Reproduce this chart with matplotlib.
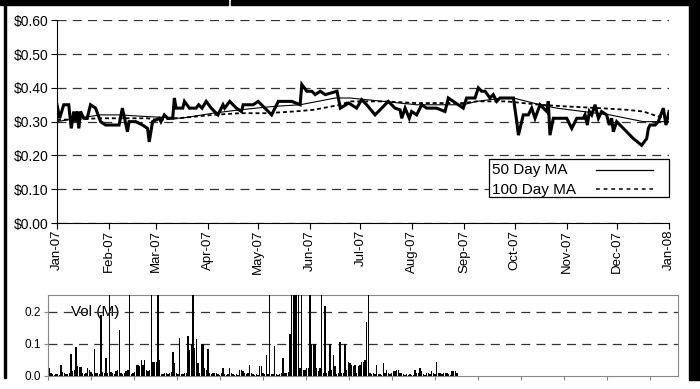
import matplotlib
matplotlib.use("Agg")
import matplotlib.pyplot as plt
import matplotlib.dates as mdates
from matplotlib.patches import Rectangle
import numpy as np
import pandas as pd

plt.rcParams['font.family'] = ['Liberation Sans', 'DejaVu Sans']

START = pd.Timestamp('2007-01-01')

# daily close (day offset from Jan 1 2007, price in $)
price_day = [0, 1.6, 4, 7, 8.5, 10, 11, 12, 13, 14, 16, 18, 20, 23, 26, 29, 37, 39, 42, 43,
             47, 51, 54, 55, 57, 61, 62, 64, 66, 69, 70, 71, 75, 76, 79, 83, 84.5, 86.5, 89, 92,
             96, 99, 100, 103, 107, 110, 111, 117, 120, 124, 128, 130, 132, 140, 145, 146, 149,
             152, 154, 157, 160, 167, 169, 174, 178.7, 181.7, 184.7, 189.7, 195.6, 197.6, 201.6,
             204.6, 205.6, 207.6, 210.1, 211.5, 214.5, 217.5, 220.5, 226.4, 231.4, 233.4, 236.4,
             239.4, 242.3, 244.3, 249.3, 251.3, 253.3, 255.3, 258.2, 260.2, 262.2, 264.2, 272.2,
             274.2, 275.2, 278.1, 281.1, 283.1, 285.1, 288.1, 290.1, 292.1, 293.0, 294.0, 296.0,
             304.0, 307.0, 310.0, 313.9, 314.9, 316.3, 317.5, 318.9, 320.9, 322.9, 324.8, 327.8,
             329.4, 330.8, 331.8, 333.8, 337.8, 343.7, 348.7, 351.7, 352.7, 353.7, 356.7, 358.6,
             361.6, 363.2, 365.0]
price = [0.35, 0.31, 0.35, 0.35, 0.28, 0.33, 0.30, 0.33, 0.28, 0.33, 0.31, 0.31, 0.35, 0.34,
         0.30, 0.29, 0.29, 0.34, 0.27, 0.30, 0.30, 0.29, 0.28, 0.24, 0.30, 0.31, 0.30, 0.32,
         0.31, 0.31, 0.37, 0.34, 0.34, 0.36, 0.34, 0.34, 0.35, 0.34, 0.36, 0.34, 0.32, 0.35,
         0.34, 0.36, 0.34, 0.33, 0.35, 0.35, 0.36, 0.34, 0.32, 0.34, 0.36, 0.36, 0.35, 0.41,
         0.39, 0.39, 0.38, 0.39, 0.38, 0.39, 0.34, 0.355, 0.34, 0.365, 0.35, 0.32, 0.35, 0.36,
         0.34, 0.335, 0.31, 0.34, 0.31, 0.33, 0.32, 0.35, 0.34, 0.34, 0.33, 0.37, 0.36, 0.35,
         0.34, 0.37, 0.37, 0.40, 0.39, 0.39, 0.37, 0.38, 0.36, 0.37, 0.37, 0.30, 0.26, 0.32,
         0.32, 0.34, 0.31, 0.35, 0.34, 0.33, 0.36, 0.26, 0.31, 0.31, 0.28, 0.31, 0.31, 0.32,
         0.29, 0.33, 0.32, 0.35, 0.31, 0.33, 0.32, 0.29, 0.31, 0.27, 0.30, 0.28, 0.25, 0.23,
         0.25, 0.28, 0.29, 0.29, 0.30, 0.34, 0.29, 0.33]

ma50_day = [0, 12, 26, 37, 54, 74, 93, 109, 129, 145, 166, 174.7, 194.6, 214.5, 242.3, 250.3,
            266.2, 272.2, 288.1, 298, 313.9, 329.8, 349.7, 365]
ma50 = [0.30, 0.31, 0.32, 0.32, 0.315, 0.31, 0.325, 0.335, 0.345, 0.35, 0.37, 0.37, 0.36,
        0.35, 0.35, 0.36, 0.37, 0.37, 0.35, 0.34, 0.33, 0.32, 0.30, 0.30]

ma100_day = [0, 26, 54, 60, 72, 93, 109, 125, 141, 153, 169, 174.7, 194.6, 214.5, 242.3, 250.3,
             268, 288.1, 304, 323.8, 340, 349.7, 355.7, 363, 365]
ma100 = [0.305, 0.31, 0.31, 0.305, 0.31, 0.32, 0.325, 0.325, 0.33, 0.335, 0.35, 0.36, 0.36,
         0.355, 0.355, 0.36, 0.36, 0.35, 0.345, 0.34, 0.335, 0.33, 0.32, 0.31, 0.31]

# daily volume, millions of shares
volume = [0.025, 0.008, 0.005, 0.003, 0.006, 0.005, 0.004, 0.033, 0.012, 0.01,
          0.005, 0.006, 0.01, 0.07, 0.015, 0.02, 0.09, 0.03, 0.028, 0.028,
          0.01, 0.005, 0.008, 0.025, 0.02, 0.012, 0.005, 0.085, 0.01, 0.008,
          0.005, 0.19, 0.012, 0.01, 0.055, 0.01, 0.3, 0.012, 0.008, 0.005,
          0.015, 0.018, 0.145, 0.01, 0.005, 0.008, 0.015, 0.018, 0.3, 0.005,
          0.008, 0.012, 0.035, 0.035, 0.03, 0.05, 0.035, 0.05, 0.02, 0.015,
          0.02, 0.3, 0.045, 0.045, 0.045, 0.3, 0.05, 0.005, 0.005, 0.008,
          0.01, 0.005, 0.01, 0.012, 0.075, 0.04, 0.01, 0.005, 0.12, 0.005,
          0.005, 0.008, 0.01, 0.125, 0.08, 0.1, 0.3, 0.088, 0.115, 0.04,
          0.01, 0.1, 0.1, 0.025, 0.02, 0.085, 0.01, 0.005, 0.01, 0.008,
          0.01, 0.005, 0.003, 0.01, 0.025, 0.005, 0.003, 0.005, 0.025, 0.008,
          0.005, 0.003, 0.005, 0.004, 0.02, 0.018, 0.015, 0.01, 0.005, 0.008,
          0.035, 0.01, 0.005, 0.003, 0.005, 0.004, 0.03, 0.03, 0.01, 0.005,
          0.065, 0.005, 0.3, 0.005, 0.005, 0.093, 0.005, 0.003, 0.005, 0.008,
          0.055, 0.01, 0.01, 0.012, 0.13, 0.3, 0.3, 0.3, 0.3, 0.3,
          0.025, 0.3, 0.02, 0.02, 0.025, 0.025, 0.3, 0.1, 0.1, 0.1,
          0.025, 0.015, 0.025, 0.3, 0.01, 0.22, 0.01, 0.015, 0.1, 0.02,
          0.065, 0.03, 0.005, 0.008, 0.105, 0.01, 0.008, 0.1, 0.02, 0.045,
          0.04, 0.035, 0.03, 0.035, 0.01, 0.03, 0.035, 0.045, 0.045, 0.05,
          0.17, 0.3, 0.01, 0.005, 0.01, 0.005, 0.035, 0.005, 0.005, 0.003,
          0.04, 0.01, 0.02, 0.01, 0.005, 0.01, 0.015, 0.015, 0.02, 0.02,
          0.01, 0.01, 0.005, 0.003, 0.005, 0.003, 0.005, 0.002, 0.003, 0.02,
          0.01, 0.01, 0.025, 0.015, 0.005, 0.003, 0.01, 0.01, 0.005, 0.015,
          0.01, 0.005, 0.045, 0.01, 0.01, 0.005, 0.01, 0.008, 0.01, 0.005,
          0.003, 0.015, 0.015, 0.015, 0.01]

VOL_SLOTS = 377.2   # category slots across the volume axis
VOL_TICK_STEP = 25.74


def to_dates(days):
    return START + pd.to_timedelta(np.array(days), unit='D')


W, H = 700, 389
fig = plt.figure(figsize=(7.0, 3.89), dpi=100)

# frame around the panel
fig.patches.append(Rectangle((0, 1 - 5 / H), 228 / W, 5 / H, transform=fig.transFigure,
                             color='black', zorder=0))
fig.patches.append(Rectangle((231 / W, 1 - 5 / H), 1, 5 / H, transform=fig.transFigure,
                             color='black', zorder=0))
fig.patches.append(Rectangle((689 / W, 1 - 380 / H), 11 / W, 380 / H, transform=fig.transFigure,
                             color='black', zorder=0))
fig.patches.append(Rectangle((4 / W, 1 - 378 / H), 2 / W, 378 / H, transform=fig.transFigure,
                             color='black', zorder=0))

dash = (0, (7.2, 5))
ma100_style = (0, (2.2, 1.6))

# --- price panel ---
ax = fig.add_axes([57 / W, 1 - 223 / H, 612 / W, (223 - 20.3) / H])
ax.plot(to_dates(price_day), price, color='black', lw=2.2, solid_joinstyle='miter', zorder=3)
ax.plot(to_dates(ma50_day), ma50, color='black', lw=0.8, zorder=4)
ax.plot(to_dates(ma100_day), ma100, color='black', lw=1.3, linestyle=ma100_style, zorder=4)

ax.set_ylim(0, 0.6)
ax.set_yticks(np.arange(0, 0.61, 0.1))
ax.yaxis.set_major_formatter(plt.FuncFormatter(lambda v, p: '\\${:.2f}'.format(v)))
ax.set_xlim(START, pd.Timestamp('2008-01-01'))
ax.xaxis.set_major_locator(mdates.MonthLocator())
ax.xaxis.set_major_formatter(mdates.DateFormatter('%b-%y'))
ax.tick_params(axis='x', labelrotation=90, labelsize=9.5, length=4, pad=1, width=0.8)
ax.tick_params(axis='y', labelsize=10, length=4, pad=2, width=0.8)
ax.yaxis.grid(True, linestyle=dash, color='#333333', lw=0.9)
ax.set_axisbelow(True)
for s in ['top', 'right']:
    ax.spines[s].set_visible(False)
for s in ['left', 'bottom']:
    ax.spines[s].set_linewidth(0.8)

# legend box: label on the left, line sample on the right
ax.add_patch(Rectangle((0.706, 0.128), 0.294, 0.188, transform=ax.transAxes,
                       facecolor='white', edgecolor='black', lw=0.9, zorder=6, clip_on=False))
ax.text(0.711, 0.262, '50 Day MA', transform=ax.transAxes, fontsize=11,
        ha='left', va='center', zorder=7)
ax.text(0.711, 0.165, '100 Day MA', transform=ax.transAxes, fontsize=11,
        ha='left', va='center', zorder=7)
ax.plot([0.881, 0.974], [0.262, 0.262], transform=ax.transAxes, color='black',
        lw=0.9, zorder=7, clip_on=False)
ax.plot([0.881, 0.974], [0.170, 0.170], transform=ax.transAxes, color='black',
        lw=1.1, linestyle=(0, (2.5, 2.5)), zorder=7, clip_on=False)

# --- volume panel ---
bx = fig.add_axes([48 / W, 1 - 376 / H, 630 / W, 81 / H])
bx.bar(np.arange(len(volume)), volume, width=0.8, color='black', zorder=3)
bx.set_ylim(0, 0.253)
bx.set_xlim(-0.8, VOL_SLOTS - 0.8)
bx.set_yticks([0.0, 0.1, 0.2])
bx.yaxis.set_major_formatter(plt.FuncFormatter(lambda v, p: '{:.1f}'.format(v)))
bx.set_xticks(-0.8 + VOL_TICK_STEP * np.arange(15))
bx.set_xticklabels([])
bx.tick_params(axis='x', length=3, color='#888888', width=0.8)
bx.tick_params(axis='y', labelsize=8.5, length=3, pad=2, color='#888888', width=0.8)
for s in bx.spines.values():
    s.set_color('#888888')
    s.set_linewidth(0.8)
for v in [0.1, 0.2]:
    bx.axhline(v, linestyle=dash, color='#333333', lw=0.9, zorder=2)
bx.text(0.037, 0.79, 'Vol (M)', transform=bx.transAxes, fontsize=11,
        ha='left', va='center', zorder=1)

fig.savefig('out.png', dpi=100)
